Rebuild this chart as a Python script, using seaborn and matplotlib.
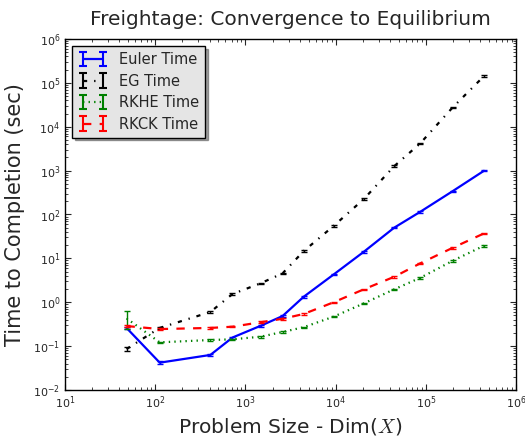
import numpy as np
import pandas as pd
import matplotlib
matplotlib.use("Agg")
import matplotlib.pyplot as plt
import seaborn as sns
from matplotlib.ticker import LogLocator, NullFormatter
from matplotlib.container import ErrorbarContainer
from matplotlib.lines import Line2D
from matplotlib.collections import LineCollection

# ---- data ----
sizes = [48, 112, 408, 717, 1468, 2576, 4410, 9500, 20470, 44500, 86500, 198000, 440000]
euler_time = [0.26, 0.042, 0.063, 0.157, 0.29, 0.485, 1.33, 4.3, 14.1, 50, 115, 340, 990]
eg_time = [0.086, 0.26, 0.6, 1.54, 2.7, 4.55, 14.6, 55, 224, 1260, 4170, 27500, 142000]
rkhe_time = [0.43, 0.122, 0.138, 0.143, 0.164, 0.21, 0.27, 0.47, 0.94, 1.97, 3.6, 8.8, 19.4]
rkck_time = [0.287, 0.245, 0.26, 0.277, 0.35, 0.42, 0.54, 1.0, 1.97, 3.8, 7.7, 17.4, 37]

euler_err = [0.02, 0.003, 0.004, 0.008, 0.015, 0.02, 0.06, 0.2, 0.6, 2, 5, 12, 30]
eg_err = [0.008, 0.015, 0.03, 0.08, 0.12, 0.2, 0.7, 2.5, 10, 60, 200, 1200, 6000]
rkhe_err = [0.19, 0.005, 0.006, 0.006, 0.007, 0.008, 0.01, 0.02, 0.04, 0.08, 0.15, 0.35, 0.8]
rkck_err = [0.02, 0.01, 0.01, 0.01, 0.015, 0.018, 0.02, 0.04, 0.08, 0.15, 0.3, 0.7, 1.5]

labels = ["Euler Time", "EG Time", "RKHE Time", "RKCK Time"]
colors = ["#0000ff", "#000000", "#008000", "#ff0000"]
styles = ["-", "-.", ":", "--"]

sns.set_style("ticks")
plt.rcParams["font.family"] = ["DejaVu Sans"]
plt.rcParams["mathtext.fontset"] = "cm"
plt.rcParams["lines.scale_dashes"] = False
plt.rcParams["lines.dashed_pattern"] = [6, 6]
plt.rcParams["lines.dashdot_pattern"] = [3, 5, 1, 5]
plt.rcParams["lines.dotted_pattern"] = [1, 3]

fig = plt.figure(figsize=(5.25, 4.4), dpi=100)
ax = fig.add_axes([0.124, 0.1136, 0.859, 0.7978])

series = [euler_time, eg_time, rkhe_time, rkck_time]
errs = [euler_err, eg_err, rkhe_err, rkck_err]

handles = []
for lab, ys, es, c, ls in zip(labels, series, errs, colors, styles):
    df = pd.DataFrame({"size": sizes, "time": ys})
    sns.lineplot(data=df, x="size", y="time", color=c, linestyle=ls,
                 linewidth=1.6, ax=ax, legend=False, errorbar=None)
    ax.errorbar(sizes, ys, yerr=es, fmt="none", ecolor=c, elinewidth=1,
                capsize=2.5, capthick=1)
    line = Line2D([], [], color=c, linestyle=ls, linewidth=1.6)
    cap = Line2D([], [], color=c, marker="_", markersize=6,
                 markeredgewidth=1.5, linestyle="none")
    bars = LineCollection([], colors=c, linewidths=1.5)
    handles.append(ErrorbarContainer((line, (cap, cap), (bars,)),
                                     has_xerr=False, has_yerr=True, label=lab))

ax.set_xscale("log")
ax.set_yscale("log")
ax.set_xlim(1e1, 1e6)
ax.set_ylim(1e-2, 1e6)
for axis in (ax.xaxis, ax.yaxis):
    axis.set_major_locator(LogLocator(base=10, numticks=20))
    axis.set_minor_locator(LogLocator(base=10, subs=np.arange(2, 10), numticks=100))
    axis.set_minor_formatter(NullFormatter())

ax.tick_params(which="both", direction="in", top=True, right=True, labelsize=8)
ax.tick_params(which="major", length=4, width=0.8)
ax.tick_params(which="minor", length=2, width=0.6)
for sp in ax.spines.values():
    sp.set_color("black")
    sp.set_linewidth(1)

ax.set_title("Freightage: Convergence to Equilibrium", fontsize=14.5, pad=10)
ax.set_xlabel(r"Problem Size - Dim($X$)", fontsize=14.5, labelpad=3)
ax.set_ylabel("Time to Completion (sec)", fontsize=15, labelpad=6)

leg = ax.legend(handles, labels, loc="upper left", numpoints=2, fontsize=10.5,
                shadow=True, fancybox=False, facecolor="#e5e5e5",
                edgecolor="black", framealpha=1, handlelength=2,
                borderpad=0.4, labelspacing=0.45, handletextpad=0.8)
leg.get_frame().set_linewidth(1)

fig.savefig("out.png", dpi=100, facecolor="white")
